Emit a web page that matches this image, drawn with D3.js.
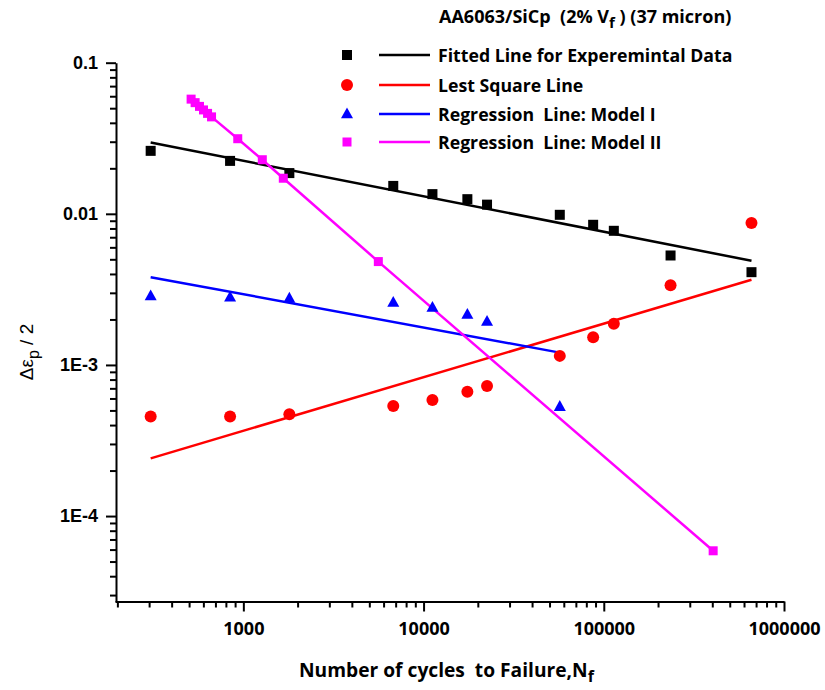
<!DOCTYPE html>
<html>
<head>
<meta charset="utf-8">
<script src="https://cdn.jsdelivr.net/npm/d3@7"></script>
<style>
  body { margin: 0; background: #fff; }
  svg { display: block; }
  text { white-space: pre; }
  .bold { font-family: "Open Sans", Lato, sans-serif; font-weight: bold; }
</style>
</head>
<body>
<svg id="chart" width="825" height="690"></svg>
<script>
// cycles to failure shared by the measured series
const cycles = [306, 844, 1800, 6790, 11200, 17500, 22500, 57000, 87300, 113700, 234700, 660000];
const expData = [0.0261, 0.0224, 0.0186, 0.0153, 0.0135, 0.0125, 0.0115, 0.00985, 0.00846, 0.00772, 0.0053, 0.00411];
const lsqData = [4.55e-4, 4.55e-4, 4.72e-4, 5.35e-4, 5.86e-4, 6.65e-4, 7.26e-4, 1.148e-3, 1.526e-3, 1.87e-3, 3.37e-3, 8.68e-3];
const model1Cycles = [306, 844, 1800, 6790, 11200, 17500, 22500, 57000];
const model1Data = [2.86e-3, 2.81e-3, 2.76e-3, 2.59e-3, 2.40e-3, 2.16e-3, 1.94e-3, 5.3e-4];
const model2Cycles = [513, 540, 571, 601, 633, 666, 931, 1274, 1666, 5610, 404500];
const model2Data = [0.0574, 0.0544, 0.0514, 0.0487, 0.0462, 0.0438, 0.0314, 0.0228, 0.0172, 4.83e-3, 5.89e-5];

// fitted lines (end points)
const expFitCycles = [306, 660000];
const expFit = [0.0296, 0.00489];
const lsqFitCycles = [306, 660000];
const lsqFit = [2.41e-4, 3.66e-3];
const model1FitCycles = [306, 57000];
const model1Fit = [3.81e-3, 1.206e-3];

const yTickLabels = { 0.1: "0.1", 0.01: "0.01", 0.001: "1E-3", 0.0001: "1E-4" };
const xTicks = [1000, 10000, 100000, 1000000];

const legendItems = [
    { label: "Fitted Line for Experemintal Data", color: "#000000", symbol: "square", size: 10 },
    { label: "Lest Square Line", color: "#ff0000", symbol: "circle", size: 12 },
    { label: "Regression  Line: Model I", color: "#0000ff", symbol: "triangle", size: 12 },
    { label: "Regression  Line: Model II", color: "#ff00ff", symbol: "square", size: 9 }
];

const svg = d3.select("#chart");

const x = d3.scaleLog().domain([194, 1e6]).range([115, 784]);
const y = d3.scaleLog().domain([2.72e-5, 0.1]).range([601.5, 62.7]);

// minor ticks between decades
function minorTicks(lo, hi) {
    const out = [];
    for (let e = Math.floor(Math.log10(lo)); e <= Math.ceil(Math.log10(hi)); e++) {
        for (let m = 2; m <= 9; m++) {
            const v = m * Math.pow(10, e);
            if (v >= lo && v <= hi) out.push(v);
        }
    }
    return out;
}

function styleAxis(g) {
    g.selectAll("path.domain").attr("stroke", "#000").attr("stroke-width", 2);
    g.selectAll(".tick line").attr("stroke", "#000").attr("stroke-width", 2);
}

// x axis
svg.append("g")
    .attr("transform", `translate(0,${y.range()[0]})`)
    .call(d3.axisBottom(x).tickValues(minorTicks(194, 1e6)).tickSize(6).tickSizeOuter(0).tickFormat(""))
    .call(styleAxis);

const xMajor = svg.append("g")
    .attr("transform", `translate(0,${y.range()[0]})`)
    .call(d3.axisBottom(x).tickValues(xTicks).tickSize(10).tickSizeOuter(0).tickFormat(d3.format("d")).tickPadding(11))
    .call(styleAxis);
xMajor.select("path.domain").remove();
xMajor.selectAll("text")
    .attr("class", "bold")
    .style("font-size", "18px")
    .attr("fill", "#000");

// y axis
svg.append("g")
    .attr("transform", `translate(${x.range()[0] + 1},0)`)
    .call(d3.axisLeft(y).tickValues(minorTicks(2.72e-5, 0.1)).tickSize(6).tickSizeOuter(0).tickFormat(""))
    .call(styleAxis);

const yMajor = svg.append("g")
    .attr("transform", `translate(${x.range()[0] + 1},0)`)
    .call(d3.axisLeft(y).tickValues([0.1, 0.01, 0.001, 0.0001]).tickSize(10).tickSizeOuter(0)
        .tickFormat(d => yTickLabels[d]).tickPadding(8))
    .call(styleAxis);
yMajor.select("path.domain").remove();
yMajor.selectAll("text")
    .style("font-family", "'Liberation Sans', Arial, sans-serif")
    .style("font-weight", "bold")
    .style("font-size", "18px")
    .attr("fill", "#000");

// lines
const line = d3.line().x(d => x(d[0])).y(d => y(d[1]));
const zip = (a, b) => a.map((v, i) => [v, b[i]]);

function drawLine(xs, ys, color) {
    svg.append("path")
        .datum(zip(xs, ys))
        .attr("d", line)
        .attr("fill", "none")
        .attr("stroke", color)
        .attr("stroke-width", 2.5);
}

drawLine(expFitCycles, expFit, "#000000");
drawLine(lsqFitCycles, lsqFit, "#ff0000");
drawLine(model1FitCycles, model1Fit, "#0000ff");
drawLine(model2Cycles, model2Data, "#ff00ff");

// symbols
function marker(sel, symbol, size, color) {
    if (symbol === "square") {
        sel.append("rect")
            .attr("x", -size / 2).attr("y", -size / 2)
            .attr("width", size).attr("height", size)
            .attr("fill", color);
    } else if (symbol === "circle") {
        sel.append("circle").attr("r", size / 2).attr("fill", color);
    } else {
        const h = size * 0.9;
        sel.append("path")
            .attr("d", `M0,${-h * 0.6}L${size / 2},${h * 0.4}L${-size / 2},${h * 0.4}Z`)
            .attr("fill", color);
    }
}

function drawPoints(xs, ys, symbol, size, color) {
    svg.append("g").selectAll("g")
        .data(zip(xs, ys))
        .join("g")
        .attr("transform", d => `translate(${x(d[0])},${y(d[1])})`)
        .each(function () { marker(d3.select(this), symbol, size, color); });
}

drawPoints(cycles, expData, "square", 10, "#000000");
drawPoints(cycles, lsqData, "circle", 12, "#ff0000");
drawPoints(model1Cycles, model1Data, "triangle", 12, "#0000ff");
drawPoints(model2Cycles, model2Data, "square", 9, "#ff00ff");

// legend
const legend = svg.append("g");
const rowY = [55, 85, 114, 142];
legendItems.forEach((it, i) => {
    const row = legend.append("g").attr("transform", `translate(0,${rowY[i]})`);
    marker(row.append("g").attr("transform", "translate(347,0)"), it.symbol, it.size, it.color);
    row.append("line")
        .attr("x1", 379).attr("x2", 430)
        .attr("stroke", it.color).attr("stroke-width", 2.5);
    row.append("text")
        .attr("class", "bold")
        .attr("x", 438).attr("y", 7)
        .style("font-size", "17.7px")
        .attr("fill", "#000")
        .text(it.label);
});

// title
const title = svg.append("text")
    .attr("class", "bold")
    .attr("x", 439).attr("y", 23)
    .style("font-size", "18px")
    .attr("fill", "#000");
title.append("tspan").text("AA6063/SiCp  (2% V");
title.append("tspan").attr("dy", 5).style("font-size", "15px").text("f");
title.append("tspan").attr("dy", -5).text(" ) (37 micron)");

// x axis title
const xTitle = svg.append("text")
    .attr("class", "bold")
    .attr("x", 299).attr("y", 677)
    .style("font-size", "19.2px")
    .attr("fill", "#000");
xTitle.append("tspan").text("Number of cycles  to Failure,N");
xTitle.append("tspan").attr("dy", 5).style("font-size", "16px").text("f");

// y axis title
const yTitle = svg.append("text")
    .attr("transform", "translate(33,352) rotate(-90)")
    .attr("text-anchor", "middle")
    .style("font-family", "'Liberation Sans', Arial, sans-serif")
    .style("font-size", "19px")
    .attr("fill", "#000");
yTitle.append("tspan").text("Δε");
yTitle.append("tspan").attr("dy", 6).style("font-size", "16px").text("p");
yTitle.append("tspan").attr("dy", -6).text(" / 2");
</script>
</body>
</html>
